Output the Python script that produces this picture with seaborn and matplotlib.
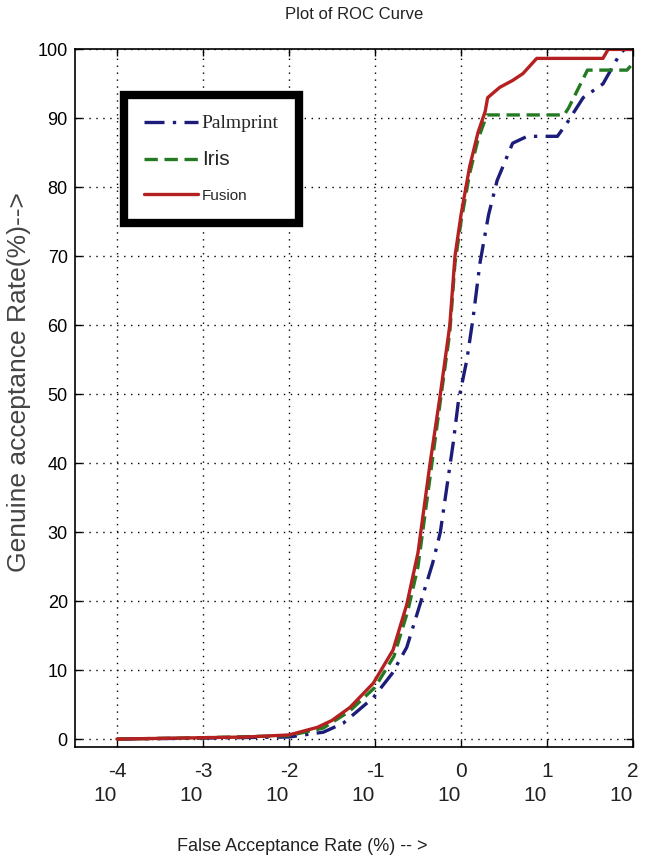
import numpy as np
import seaborn as sns
import matplotlib.pyplot as plt
from matplotlib.lines import Line2D

# FAR (%) and GAR (%)
fusion_far = [0.0001, 0.001, 0.00316, 0.01, 0.0214, 0.0316, 0.0513, 0.0955, 0.162,
              0.234, 0.316, 0.437, 0.575, 0.741, 0.851, 1.0, 1.26, 1.58, 1.91, 2.04,
              2.82, 3.98, 5.25, 7.59, 44.7, 51.3, 100]
fusion_gar = [0, 0.2, 0.3, 0.6, 1.7, 2.7, 4.6, 8.1, 12.9,
              19.5, 27, 40, 50, 60, 70, 76, 83, 88, 91, 93,
              94.5, 95.5, 96.5, 98.7, 98.7, 100, 100]

iris_far = [0.0001, 0.001, 0.01, 0.0251, 0.0501, 0.1, 0.166, 0.24, 0.316, 0.437,
            0.575, 0.741, 0.851, 1.0, 1.26, 1.58, 2.0, 15.8, 17.8, 22.4, 29.5, 85.1, 100]
iris_gar = [0, 0.2, 0.5, 1.6, 4, 7.5, 12, 18.5, 25, 38,
            49, 59, 69, 75, 82, 87, 90.5, 90.5, 91.5, 94, 97, 97, 98]

palm_far = [0.0001, 0.0005, 0.01, 0.0251, 0.0427, 0.0955, 0.158, 0.234, 0.363, 0.468,
            0.575, 0.813, 0.933, 1.17, 1.38, 1.66, 2.09, 2.63, 3.98, 5.89, 13.2, 17.0,
            26.3, 44.7, 70.8, 79.4, 100]
palm_gar = [0, 0.1, 0.3, 1, 2.3, 6, 9.5, 13.3, 21, 25.5,
            30, 43, 49, 55, 61, 69, 76, 81, 86.4, 87.4, 87.4, 89.3,
            93, 95, 99.4, 100, 100]

decades = [-4, -3, -2, -1, 0, 1, 2]
yticks = list(range(0, 101, 10))

sns.set_style("white")
plt.rcParams["font.family"] = ["Liberation Sans", "DejaVu Sans"]

fig = plt.figure(figsize=(6.56, 8.67), dpi=100)
ax = fig.add_axes([0.114, 0.138, 0.851, 0.805])

sns.lineplot(x=palm_far, y=palm_gar, ax=ax, color="#1c1c7a", lw=2.4,
             linestyle=(0, (6, 2.5, 1, 2.5)), estimator=None, sort=False)
sns.lineplot(x=iris_far, y=iris_gar, ax=ax, color="#237a23", lw=2.4,
             linestyle=(0, (4, 2)), estimator=None, sort=False)
sns.lineplot(x=fusion_far, y=fusion_gar, ax=ax, color="#b52020", lw=2.4,
             estimator=None, sort=False)

ax.set_xscale("log")
ax.set_xlim(10 ** -4.49, 100)
ax.set_ylim(-1.2, 100)
ax.set_xticks([10.0 ** d for d in decades])
ax.set_xticklabels([])
ax.minorticks_off()
ax.set_yticks(yticks)
ax.set_yticklabels([str(t) for t in yticks], fontsize=13, color="#222222")
ax.tick_params(direction="in", length=5, width=1, top=True, right=True,
               left=True, bottom=True, colors="black", pad=5)
ax.grid(True, color="black", linestyle=(0, (1, 4)), linewidth=1)
for s in ax.spines.values():
    s.set_color("black")
    s.set_linewidth(1.2)

# MATLAB-style power-of-ten tick labels
xt = ax.get_xaxis_transform()
for d in decades:
    ax.text(10.0 ** d, -0.034, str(d), transform=xt, ha="center", va="center",
            fontsize=15, color="#222222")
    ax.text(10.0 ** (d - 0.14), -0.069, "10", transform=xt, ha="center",
            va="center", fontsize=15, color="#222222")

ax.set_title("Plot of ROC Curve", fontsize=12, pad=22, color="#222222")
ax.set_xlabel("False Acceptance Rate (%) -- >", fontsize=13, color="#222222")
ax.xaxis.set_label_coords(0.407, -0.13)
ax.set_ylabel("Genuine acceptance Rate(%)-->", fontsize=19, color="#444444")
ax.yaxis.set_label_coords(-0.078, 0.523)

handles = [
    Line2D([], [], color="#1c1c7a", lw=2.4, linestyle=(0, (6, 2.5, 1, 2.5))),
    Line2D([], [], color="#237a23", lw=2.4, linestyle=(0, (4, 2))),
    Line2D([], [], color="#b52020", lw=2.4),
]
leg = ax.legend(handles, ["Palmprint", "Iris", "Fusion"], loc="upper left",
                bbox_to_anchor=(0.072, 0.947), fancybox=False, framealpha=1,
                edgecolor="black", borderpad=1.1, labelspacing=1.0,
                handlelength=3.0, handletextpad=0.2, fontsize=13)
leg.get_frame().set_linewidth(6)
t = leg.get_texts()
t[0].set_family("Liberation Serif")
t[0].set_fontsize(14)
t[1].set_fontsize(15)
t[2].set_fontsize(11)

fig.savefig("out.png", dpi=100)
